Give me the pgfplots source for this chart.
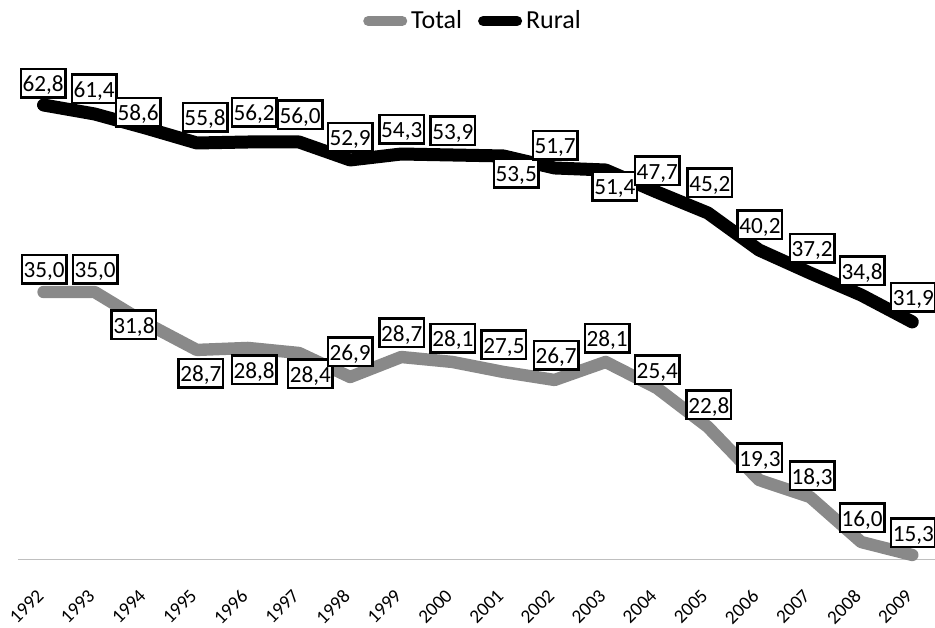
\documentclass[border=0pt]{standalone}
\usepackage{fontspec}
\setmainfont{Carlito}
\usepackage{graphicx}
\usepackage{pgfplots}
\pgfplotsset{compat=1.18}
\usepackage{pgfplotstable}
\definecolor{totalgray}{RGB}{137,137,137}
\definecolor{basegray}{RGB}{191,191,191}

\pgfplotstableread{
x y
0 35.00
1 35.00
2 32.68
3 30.66
4 30.81
5 30.43
6 28.63
7 30.13
8 29.76
9 29.01
10 28.41
11 29.76
12 27.81
13 24.89
14 20.92
15 19.64
16 16.27
17 15.30
}\totalline

\pgfplotstableread{
x y
0 62.80
1 61.52
2 59.52
3 57.39
4 57.53
5 57.53
6 54.97
7 55.82
8 55.68
9 55.54
10 53.83
11 53.54
12 50.41
13 47.42
14 42.15
15 38.87
16 35.74
17 31.90
}\ruralline

\pgfplotstableread{
x y label
0.01 36.72 35,0
1.01 36.72 35,0
1.77 32.53 31,8
3.08 28.93 28,7
4.12 29.16 28,8
5.22 28.86 28,4
6.00 30.51 26,9
7.01 31.93 28,7
8.01 31.55 28,1
9.01 31.03 27,5
10.03 30.28 26,7
11.03 31.55 28,1
12.01 29.16 25,4
13.02 26.54 22,8
14.02 22.57 19,3
15.04 21.22 18,3
16.02 18.07 16,0
17.02 16.95 15,3
}\totallabels

\pgfplotstableread{
x y label
-0.01 65.93 62,8
0.99 65.08 61,4
1.85 61.80 58,6
3.16 61.09 55,8
4.12 61.80 56,2
5.02 61.38 56,0
6.00 58.24 52,9
7.01 59.38 54,3
8.01 59.10 53,9
9.25 53.11 53,5
10.01 57.10 51,7
11.18 51.26 51,4
12.01 53.40 47,7
13.04 51.69 45,2
14.02 45.71 40,2
15.04 42.43 37,2
16.02 39.16 34,8
17.02 35.45 31,9
}\rurallabels

\newcommand{\rl}[1]{\rotatebox{45}{#1}}

\pgfplotsset{
  common/.style={scale only axis, width=459.9pt, height=249.75pt,
    xmin=-0.5, xmax=17.5, clip=false},
  lbl/.style={draw=none, forget plot, nodes near coords, point meta=explicit symbolic,
    nodes near coords style={anchor=center, draw=black, line width=1.3pt, fill=white,
      inner xsep=0.8pt, inner ysep=2.3pt, minimum width=22.2pt, minimum height=14.2pt,
      text height=9pt, text depth=0.5pt,
      font=\fontsize{11.6pt}{14pt}\selectfont, text=black}},
}

\begin{document}
\begin{tikzpicture}
\begin{axis}[common, ymin=14.96, ymax=52.38,
  axis x line*=bottom, axis y line=none,
  x axis line style={basegray, line width=0.6pt, -},
  xtick={0,1,2,3,4,5,6,7,8,9,10,11,12,13,14,15,16,17},
  xticklabels={\rl{1992},\rl{1993},\rl{1994},\rl{1995},\rl{1996},\rl{1997},\rl{1998},\rl{1999},\rl{2000},\rl{2001},\rl{2002},\rl{2003},\rl{2004},\rl{2005},\rl{2006},\rl{2007},\rl{2008},\rl{2009}},
  major tick length=0pt,
  xticklabel style={font=\fontsize{9.6pt}{11pt}\selectfont, inner sep=0pt,
    anchor=north east, xshift=0.75pt, yshift=-14.25pt},
  legend style={at={(0.4958,1.0781)}, anchor=center, draw=none, fill=none,
    legend columns=-1, font=\fontsize{13pt}{15pt}\selectfont,
    /tikz/every even column/.append style={column sep=6pt}},
  legend image code/.code={\draw[#1, line width=5pt, line cap=round] (0pt,0pt) -- (17pt,0pt);},
]
\addplot[totalgray, line width=6.2pt, line join=round, line cap=round] table[x=x,y=y] {\totalline};
\addlegendentry{Total}
\addlegendimage{black, line width=6.5pt}
\addlegendentry{Rural}
\addplot[lbl] table[x=x,y=y,meta=label] {\totallabels};
\end{axis}
\begin{axis}[common, ymin=-1.94, ymax=69.21, hide axis]
\addplot[black, line width=6.5pt, line join=round, line cap=round] table[x=x,y=y] {\ruralline};
\addplot[lbl] table[x=x,y=y,meta=label] {\rurallabels};
\end{axis}
\pgfresetboundingbox
\useasboundingbox (-9pt,-33.75pt) rectangle (458.5pt,279.75pt);
\end{tikzpicture}
\end{document}
